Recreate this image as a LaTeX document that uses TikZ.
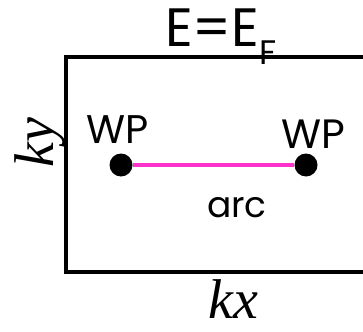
\documentclass[tikz,border=0pt]{standalone}
\usepackage{fontspec}
\setmainfont{Liberation Serif}
\newfontfamily\geo{Poppins}
\definecolor{arcpink}{RGB}{255,51,204}
\begin{document}
\begin{tikzpicture}[x=1pt,y=-1pt,
  frame/.style={line width=3.2pt},
  wpdot/.style={circle,fill=black,inner sep=0pt,minimum size=23pt},
  sanslabel/.style={inner sep=0pt,font=\geo},
  axislabel/.style={inner sep=0pt,font=\itshape\fontsize{56}{60}\selectfont}]
\useasboundingbox (0,0) rectangle (363,331);
\coordinate (tr) at (365,57);
\coordinate (tl) at (66,57);
\coordinate (bl) at (66,272);
\coordinate (br) at (365,272);
\draw[frame] (tr) -- (tl) -- (bl) -- (br);
\node[wpdot] (d1) at (121,165) {};
\node[wpdot] (d2) at (306,165) {};
\draw[arcpink,line width=4pt] (d1) -- (d2);
\node[sanslabel,anchor=base west,font=\geo\fontsize{54}{58}\selectfont] (ef) at (165,47) {E=E\raisebox{-18pt}{\fontsize{34}{36}\selectfont F}};
\node[sanslabel,anchor=base west,font=\geo\fontsize{40}{42}\selectfont] (wp1) at (86,143) {WP};
\node[sanslabel,anchor=base west,font=\geo\fontsize{41}{42}\selectfont] (wp2) at (281,148) {WP};
\node[sanslabel,anchor=base west,font=\geo\fontsize{36}{40}\selectfont] (arc) at (207,217) {arc};
\node[axislabel,anchor=base,rotate=90] (ky) at (53,143) {ky};
\node[axislabel,anchor=base] (kx) at (233,318) {kx};
\end{tikzpicture}
\end{document}
